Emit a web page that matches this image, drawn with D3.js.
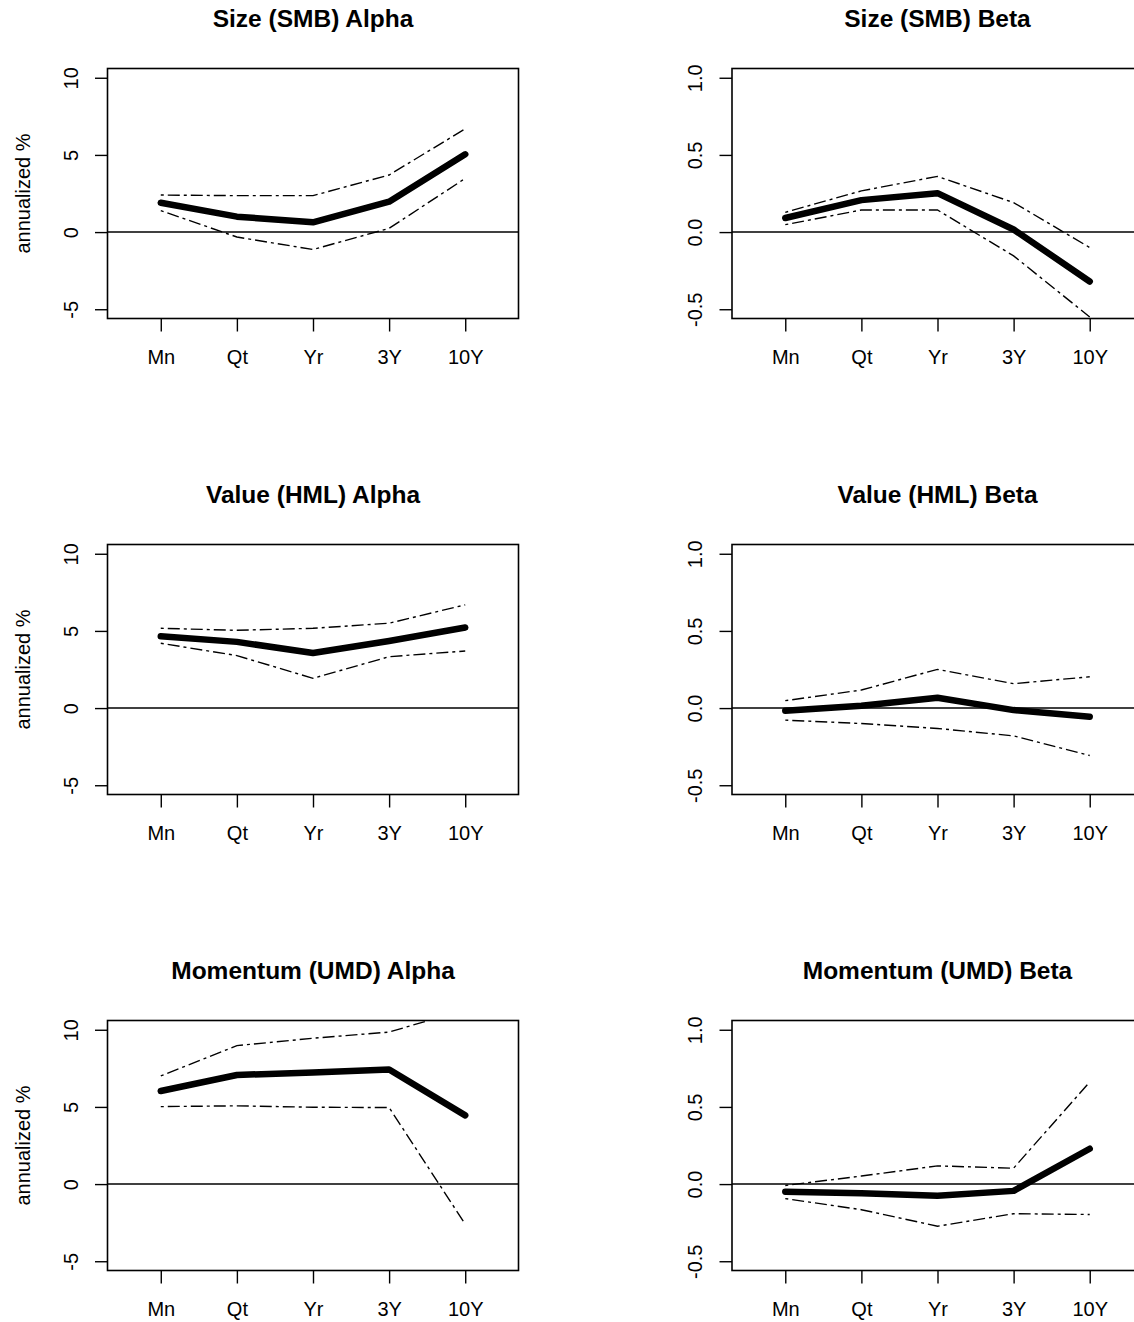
<!DOCTYPE html>
<html>
<head>
<meta charset="utf-8">
<script src="https://cdn.jsdelivr.net/npm/d3@7/dist/d3.min.js"></script>
<style>
  html, body { margin: 0; padding: 0; background: #fff; }
  svg { display: block; }
  text { font-family: "Liberation Sans", Arial, sans-serif; fill: #000; }
</style>
</head>
<body>
<svg id="chart" width="1134" height="1322"></svg>
<script>
// Horizons on the x axis
const horizons = ["Mn", "Qt", "Yr", "3Y", "10Y"];

// Tick values and labels
const alphaTicks = [-5, 0, 5, 10];
const alphaTickLabels = ["-5", "0", "5", "10"];
const betaTicks = [-0.5, 0, 0.5, 1.0];
const betaTickLabels = ["-0.5", "0.0", "0.5", "1.0"];

// Size (SMB)
const smbAlpha      = [1.90, 1.00, 0.63, 1.97, 5.04];
const smbAlphaUpper = [2.40, 2.36, 2.36, 3.70, 6.69];
const smbAlphaLower = [1.39, -0.32, -1.13, 0.24, 3.48];
const smbBeta       = [0.091, 0.207, 0.252, 0.017, -0.320];
const smbBetaUpper  = [0.128, 0.267, 0.361, 0.191, -0.100];
const smbBetaLower  = [0.048, 0.143, 0.143, -0.154, -0.550];

// Value (HML)
const hmlAlpha      = [4.65, 4.29, 3.57, 4.35, 5.22];
const hmlAlphaUpper = [5.17, 5.04, 5.17, 5.50, 6.69];
const hmlAlphaLower = [4.20, 3.40, 1.93, 3.33, 3.70];
const hmlBeta       = [-0.017, 0.015, 0.067, -0.013, -0.056];
const hmlBetaUpper  = [0.048, 0.117, 0.251, 0.158, 0.203];
const hmlBetaLower  = [-0.078, -0.100, -0.132, -0.180, -0.307];

// Momentum (UMD)
const umdAlpha      = [6.03, 7.07, 7.23, 7.42, 4.45];
const umdAlphaUpper = [7.01, 8.97, 9.45, 9.85, 11.30];
const umdAlphaLower = [5.02, 5.07, 4.98, 4.96, -2.60];
const umdBeta       = [-0.050, -0.059, -0.076, -0.044, 0.229];
const umdBetaUpper  = [-0.009, 0.052, 0.118, 0.103, 0.662];
const umdBetaLower  = [-0.094, -0.166, -0.273, -0.192, -0.197];

const panels = [
  { title: "Size (SMB) Alpha",      col: 0, row: 0, kind: "alpha", est: smbAlpha, up: smbAlphaUpper, lo: smbAlphaLower },
  { title: "Size (SMB) Beta",       col: 1, row: 0, kind: "beta",  est: smbBeta,  up: smbBetaUpper,  lo: smbBetaLower },
  { title: "Value (HML) Alpha",     col: 0, row: 1, kind: "alpha", est: hmlAlpha, up: hmlAlphaUpper, lo: hmlAlphaLower },
  { title: "Value (HML) Beta",      col: 1, row: 1, kind: "beta",  est: hmlBeta,  up: hmlBetaUpper,  lo: hmlBetaLower },
  { title: "Momentum (UMD) Alpha",  col: 0, row: 2, kind: "alpha", est: umdAlpha, up: umdAlphaUpper, lo: umdAlphaLower },
  { title: "Momentum (UMD) Beta",   col: 1, row: 2, kind: "beta",  est: umdBeta,  up: umdBetaUpper,  lo: umdBetaLower }
];

const svg = d3.select("#chart");

// Plot-region geometry
const plotW = 411, plotH = 250;
const colLeft = [107.5, 732];
const rowTop = [68.5, 544.5, 1020.5];

// Axis limits with 4% padding on each side
function padded(lo, hi) {
  const p = (hi - lo) * 0.04;
  return [lo - p, hi + p];
}

panels.forEach((p, i) => {
  const left = colLeft[p.col], top = rowTop[p.row];
  const g = svg.append("g");

  const x = d3.scaleLinear().domain(padded(0.5, 5.5)).range([left, left + plotW]);
  const yDomain = p.kind === "alpha" ? padded(-5, 10) : padded(-0.5, 1.0);
  const y = d3.scaleLinear().domain(yDomain).range([top + plotH, top]);
  const ticks = p.kind === "alpha" ? alphaTicks : betaTicks;
  const tickLabels = p.kind === "alpha" ? alphaTickLabels : betaTickLabels;

  // clip path for the plot region
  const clipId = "clip" + i;
  g.append("clipPath").attr("id", clipId)
    .append("rect")
    .attr("x", left).attr("y", top).attr("width", plotW).attr("height", plotH);

  // Title
  g.append("text")
    .attr("x", left + plotW / 2)
    .attr("y", top - 42)
    .attr("text-anchor", "middle")
    .attr("font-size", 24.5)
    .attr("font-weight", "bold")
    .text(p.title);

  // Y axis (ticks out, labels rotated)
  const yAxis = d3.axisLeft(y).tickValues(ticks).tickSize(12.5)
    .tickFormat((d, k) => tickLabels[k]);
  const ya = g.append("g").attr("transform", `translate(${left},0)`).call(yAxis);
  ya.select(".domain").remove();
  ya.selectAll(".tick line").attr("stroke", "#000").attr("stroke-width", 1.4);
  ya.selectAll(".tick text")
    .attr("font-size", 20)
    .attr("font-family", "Liberation Sans, Arial, sans-serif")
    .attr("text-anchor", "middle")
    .attr("x", 0).attr("dy", 0)
    .attr("transform", "translate(-37,0) rotate(-90) translate(0,7)");

  // X axis
  const xAxis = d3.axisBottom(x).tickValues([1, 2, 3, 4, 5]).tickSize(13)
    .tickFormat((d) => horizons[d - 1]);
  const xa = g.append("g").attr("transform", `translate(0,${top + plotH})`).call(xAxis);
  xa.select(".domain").remove();
  xa.selectAll(".tick line").attr("stroke", "#000").attr("stroke-width", 1.4);
  xa.selectAll(".tick text")
    .attr("font-size", 20)
    .attr("font-family", "Liberation Sans, Arial, sans-serif")
    .attr("y", 31).attr("dy", "0.71em");

  // Y label on the left column
  if (p.col === 0) {
    g.append("text")
      .attr("transform", `translate(${left - 78},${top + plotH / 2}) rotate(-90)`)
      .attr("text-anchor", "middle")
      .attr("font-size", 20)
      .text("annualized %");
  }

  const plot = g.append("g").attr("clip-path", `url(#${clipId})`);

  // zero reference line
  plot.append("line")
    .attr("x1", left).attr("x2", left + plotW)
    .attr("y1", y(0)).attr("y2", y(0))
    .attr("stroke", "#000").attr("stroke-width", 1.5);

  const line = d3.line().x((d, k) => x(k + 1)).y((d) => y(d));

  // confidence bands, dot-dash
  [p.up, p.lo].forEach((arr) => {
    plot.append("path")
      .attr("d", line(arr))
      .attr("fill", "none")
      .attr("stroke", "#000")
      .attr("stroke-width", 1.4)
      .attr("stroke-dasharray", "3,4,12,4");
  });

  // point estimate, heavy line
  plot.append("path")
    .attr("d", line(p.est))
    .attr("fill", "none")
    .attr("stroke", "#000")
    .attr("stroke-width", 6.5)
    .attr("stroke-linecap", "round")
    .attr("stroke-linejoin", "round");

  // box around plot region
  g.append("rect")
    .attr("x", left).attr("y", top)
    .attr("width", plotW).attr("height", plotH)
    .attr("fill", "none")
    .attr("stroke", "#000")
    .attr("stroke-width", 1.6);
});
</script>
</body>
</html>
